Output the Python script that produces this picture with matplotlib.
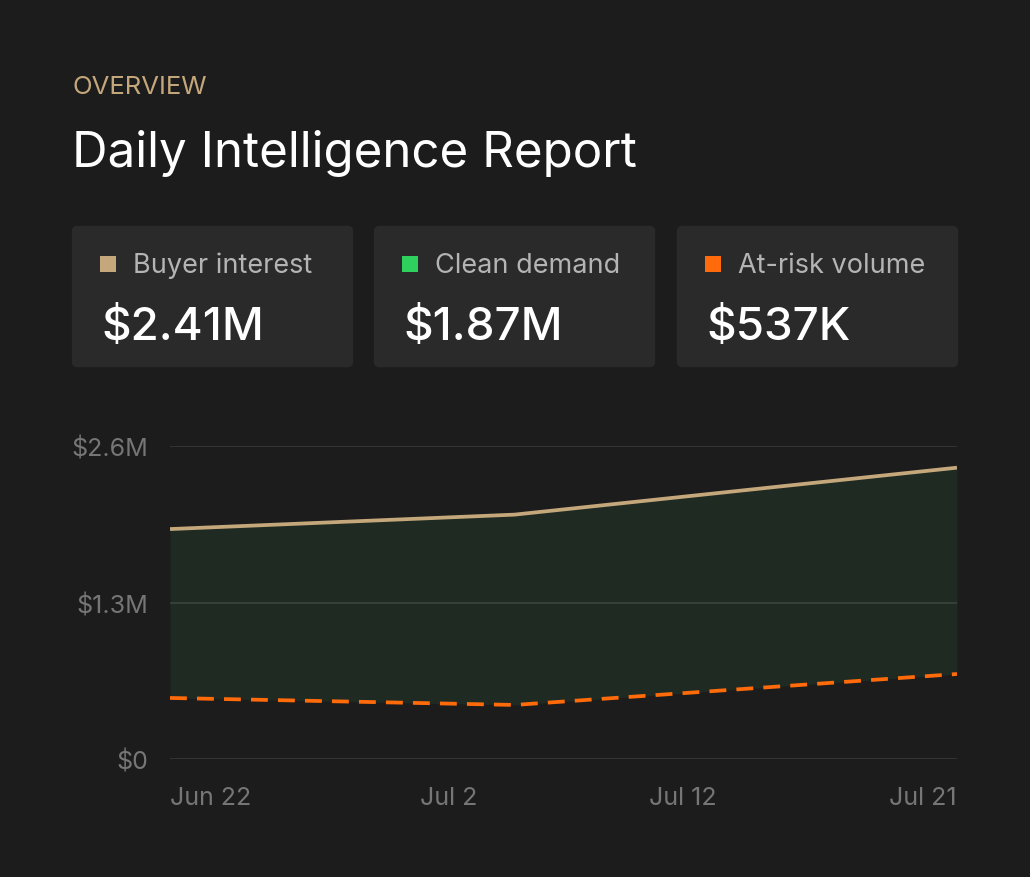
import matplotlib
matplotlib.use("Agg")
import matplotlib.pyplot as plt
from matplotlib.patches import FancyBboxPatch, Rectangle

plt.rcParams['font.family'] = ['Inter', 'DejaVu Sans']

# data (day offset from Jun 22, values in $)
days = [0, 12.7, 29]
buyer_interest = [1.91e6, 2.03e6, 2.42e6]
at_risk = [0.507e6, 0.449e6, 0.706e6]
y_ticks = [0, 1.3e6, 2.6e6]
y_labels = ['$0', '$1.3M', '$2.6M']
x_labels = ['Jun 22', 'Jul 2', 'Jul 12', 'Jul 21']

cards = [('Buyer interest', '$2.41M', '#c4a77a'),
         ('Clean demand', '$1.87M', '#2ed15e'),
         ('At-risk volume', '$537K', '#ff6a0a')]

W, H = 1030, 878
BG = '#1c1c1c'
CARD = '#2a2a2a'

fig = plt.figure(figsize=(W / 100, H / 100), dpi=100, facecolor=BG)


def fx(px):
    return px / W


def fy(py):
    return 1 - py / H


# header
fig.text(fx(73), fy(94), 'OVERVIEW', color='#c4a77a', fontsize=18.5,
         ha='left', va='baseline')
fig.text(fx(72), fy(167), 'Daily Intelligence Report', color='white',
         fontsize=35.5, ha='left', va='baseline')

# stat cards
card_x = [72, 374, 677]
for (label, value, col), x0 in zip(cards, card_x):
    fig.patches.append(FancyBboxPatch((fx(x0 + 6), fy(369 - 6)), fx(281 - 12), (143 - 12) / H,
                                      boxstyle='round,pad=0.006',
                                      transform=fig.transFigure,
                                      facecolor=CARD, edgecolor='none'))
    fig.patches.append(Rectangle((fx(x0 + 28), fy(273)), fx(16), 16 / H,
                                 transform=fig.transFigure,
                                 facecolor=col, edgecolor='none'))
    fig.text(fx(x0 + 61), fy(273), label, color='#b4b4b4', fontsize=19.5,
             ha='left', va='baseline')
    fig.text(fx(x0 + 29), fy(340), value, color='white', fontsize=33,
             ha='left', va='baseline', fontweight='medium')

# chart
ax = fig.add_axes([fx(170), fy(760), fx(787), 313 / H])
ax.set_facecolor(BG)
ax.fill_between(days, at_risk, buyer_interest, color='#1f2b22', lw=0, zorder=1)
for t in y_ticks:
    ax.axhline(t, color='white', alpha=0.1, lw=1.5, zorder=2)
ax.plot(days, buyer_interest, color='#c4a77a', lw=2.7, zorder=3,
        solid_capstyle='butt')
ax.plot(days, at_risk, color='#ff6a0a', lw=2.7, ls=(0, (4.5, 2.7)), zorder=3)
ax.set_xlim(days[0], days[-1])
ax.set_ylim(0, 2.6e6)
ax.set_xticks([])
ax.set_yticks([])
for s in ax.spines.values():
    s.set_visible(False)

for t, lab in zip(y_ticks, y_labels):
    ax.text(-0.028, t, lab, transform=ax.get_yaxis_transform(), color='#767676',
            fontsize=18, ha='right', va='center_baseline')

# x labels spaced evenly, first left-aligned, last right-aligned
label_x = [209, 449, 683, 923]
for i, (lx, lab) in enumerate(zip(label_x, x_labels)):
    if i == 0:
        fig.text(fx(170), fy(805), lab, color='#767676', fontsize=18,
                 ha='left', va='baseline')
    elif i == len(x_labels) - 1:
        fig.text(fx(957), fy(805), lab, color='#767676', fontsize=18,
                 ha='right', va='baseline')
    else:
        fig.text(fx(lx), fy(805), lab, color='#767676', fontsize=18,
                 ha='center', va='baseline')

fig.savefig('out.png', dpi=100, facecolor=BG)
